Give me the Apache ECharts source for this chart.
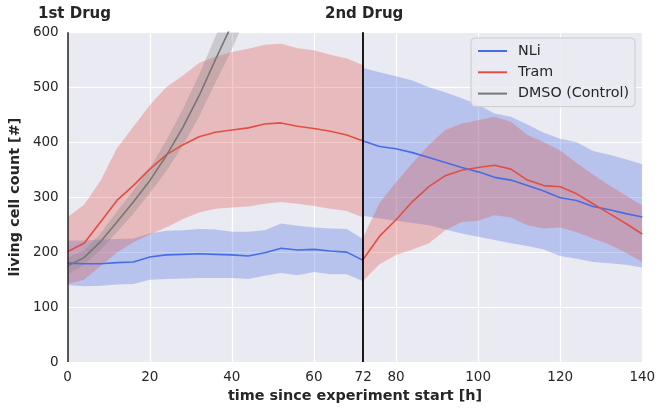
<!DOCTYPE html>
<html>
<head>
<meta charset="utf-8">
<script src="https://cdn.jsdelivr.net/npm/echarts@6/dist/echarts.min.js"></script>
<style>html,body{margin:0;padding:0;background:#fff;}#c{width:659px;height:408px;}</style>
</head>
<body>
<div id="c"></div>
<script>
// ---- data ----
const xSeg1 = [0,4,8,12,16,20,24,28,32,36,40,44,48,52,56,60,64,68,72];
const xSeg2 = [72,76,80,84,88,92,96,100,104,108,112,116,120,124,128,132,136,140];
const xDmso = [0,4,8,12,16,20,24,28,32,36,40,44];

const nliMean1  = [180,179,179,181,182,191,195,196,197,196,195,193,199,207,204,205,202,200,185];
const nliUpper1 = [221,221,223,224,225,234,239,240,242,241,237,237,240,252,248,245,243,242,224];
const nliLower1 = [140,138,139,141,142,150,151,152,153,153,153,151,157,162,158,164,160,160,147];

const tramMean1  = [201,216,255,294,321,351,377,395,410,418,422,426,433,435,429,425,420,413,402];
const tramUpper1 = [264,286,330,389,428,467,500,521,544,556,564,570,577,579,571,567,559,552,540];
const tramLower1 = [142,150,175,199,218,232,245,260,272,279,281,283,288,291,288,284,279,275,263];

const nliMean2  = [402,392,388,381,372,363,354,346,336,331,321,311,299,294,283,277,270,264];
const nliUpper2 = [535,527,520,512,500,491,480,468,452,446,432,417,406,400,384,377,369,360];
const nliLower2 = [266,261,257,253,249,241,234,228,222,216,211,205,193,188,182,180,177,172];

const tramMean2  = [187,229,259,292,319,339,349,354,358,351,331,321,319,306,288,270,252,233];
const tramUpper2 = [227,290,327,362,395,422,434,440,446,437,413,400,385,362,341,321,303,285];
const tramLower2 = [148,178,195,205,216,240,255,257,267,263,249,243,245,236,225,214,199,182];

const dmsoMean  = [175,190,219,255,291,330,375,426,484,550,614,690];
const dmsoUpper = [190,203,234,274,312,353,403,459,522,592,660,740];
const dmsoLower = [160,177,204,236,270,307,347,393,446,508,568,640];

const xTicks = [0,20,40,60,72,80,100,120,140];
const seriesNames = ['NLi','Tram','DMSO (Control)'];

const bandNli = 'rgba(65,105,225,0.3)';
const bandTram = 'rgba(226,80,70,0.3)';
const bandDmso = 'rgba(128,128,128,0.3)';
const lineNli = 'rgb(72,108,228)';
const lineTram = 'rgb(226,78,66)';
const lineDmso = 'rgb(118,118,118)';

const font = 'DejaVu Sans';

function zip(xs, ys){ return xs.map((x,i)=>[x, ys[i]]); }

function band(xs, lower, upper, fill){
  return {
    type:'custom', silent:true, animation:false, clip:true,
    data:[[xs[0], lower[0]]],
    encode:{x:0, y:1},
    renderItem:function(params, api){
      const pts = [];
      for (let i = 0; i < xs.length; i++) pts.push(api.coord([xs[i], upper[i]]));
      for (let i = xs.length - 1; i >= 0; i--) pts.push(api.coord([xs[i], lower[i]]));
      const cs = params.coordSys;
      return {
        type:'polygon', shape:{points:pts},
        style:{fill:fill, stroke:null},
        clipPath:{type:'rect', shape:{x:cs.x, y:cs.y, width:cs.width, height:cs.height}}
      };
    }
  };
}
function line(name, xs, ys, color, extra){
  return Object.assign({ type:'line', name:name, data: zip(xs, ys), symbol:'none', showSymbol:false,
    lineStyle:{color:color, width:1.6}, itemStyle:{color:color}, animation:false, clip:true }, extra||{});
}

const series = [
  band(xSeg1, nliLower1, nliUpper1, bandNli),
  band(xSeg2, nliLower2, nliUpper2, bandNli),
  line('NLi', xSeg1, nliMean1, lineNli),
  line('NLi', xSeg2, nliMean2, lineNli),
  band(xSeg1, tramLower1, tramUpper1, bandTram),
  band(xSeg2, tramLower2, tramUpper2, bandTram),
  line('Tram', xSeg1, tramMean1, lineTram),
  line('Tram', xSeg2, tramMean2, lineTram),
  band(xDmso, dmsoLower, dmsoUpper, bandDmso),
  line('DMSO (Control)', xDmso, dmsoMean, lineDmso, {
    markLine:{ silent:true, symbol:['none','none'], animation:false,
      label:{show:false},
      lineStyle:{color:'#000', width:1.8, type:'solid'},
      data:[{xAxis:72},{xAxis:0, lineStyle:{color:'#222', width:1.5, type:'solid'}}] }
  })
];

const chart = echarts.init(document.getElementById('c'), null, {renderer:'canvas'});
chart.setOption({
  animation:false,
  backgroundColor:'#ffffff',
  textStyle:{fontFamily:font},
  grid:{left:66.5, right:16.7, top:32.2, bottom:40.3, show:true, backgroundColor:'#eaeaf2', borderWidth:0},
  xAxis:{
    type:'value', min:0, max:140, interval:20,
    name:'time since experiment start [h]', nameLocation:'middle', nameGap:25,
    nameTextStyle:{fontFamily:font, fontWeight:'bold', fontSize:14.4, color:'#262626'},
    axisLine:{show:false}, axisTick:{show:false, customValues:xTicks},
    axisLabel:{customValues:xTicks, fontFamily:font, fontSize:13.5, color:'#262626', margin:8},
    splitLine:{show:true, lineStyle:{color:'#ffffff', width:1.2}}
  },
  yAxis:{
    type:'value', min:0, max:600, interval:100,
    name:'living cell count [#]', nameLocation:'middle', nameGap:33,
    nameTextStyle:{fontFamily:font, fontWeight:'bold', fontSize:14.4, color:'#262626'},
    axisLine:{show:false}, axisTick:{show:false},
    axisLabel:{fontFamily:font, fontSize:13.5, color:'#262626', margin:9},
    splitLine:{show:true, lineStyle:{color:'#ffffff', width:1.2}}
  },
  legend:{
    data:seriesNames, orient:'vertical', left:471, top:38,
    padding:[5,6,5,6], itemWidth:29, itemHeight:16, itemGap:5.3,
    itemStyle:{opacity:0},
    backgroundColor:'rgba(234,234,242,0.85)', borderColor:'#cccccc', borderWidth:1, borderRadius:4,
    textStyle:{fontFamily:font, fontSize:14.3, color:'#262626', lineHeight:16, padding:[0,0,0,6]}
  },
  graphic:[
    {type:'text', left:38, top:7, style:{text:'1st Drug', font:'bold 15px "DejaVu Sans"', fill:'#262626'}},
    {type:'text', left:325, top:7, style:{text:'2nd Drug', font:'bold 15px "DejaVu Sans"', fill:'#262626'}}
  ],
  series:series
});
</script>
</body>
</html>
